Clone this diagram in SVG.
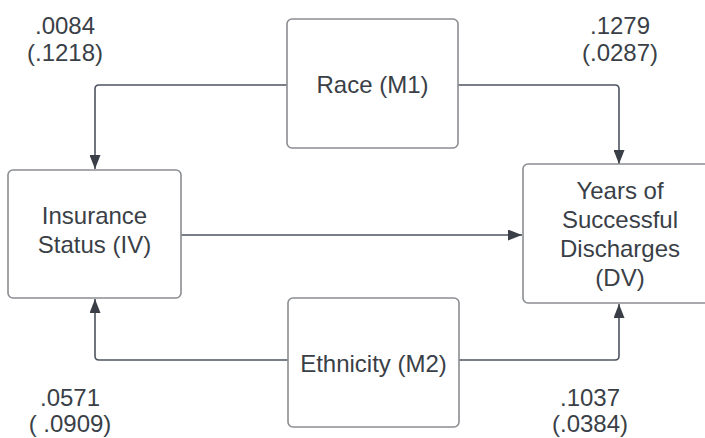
<svg xmlns="http://www.w3.org/2000/svg" width="705" height="438" viewBox="0 0 705 438">
<style>
.box{fill:#fff;stroke:#8a8d91;stroke-width:1.6}
.t{font-family:"Liberation Sans",Arial,sans-serif;font-size:24px;fill:#3a3f47;text-anchor:middle}
.c{fill:none;stroke:#4d5460;stroke-width:1.6;stroke-linejoin:round}
</style>
<defs>
<marker id="ah" viewBox="0 0 14 11" refX="14" refY="5.5" markerWidth="14" markerHeight="11" markerUnits="userSpaceOnUse" orient="auto">
<path d="M0,0 L14,5.5 L0,11 Z" fill="#3a3f47"/>
</marker>
</defs>
<rect width="705" height="438" fill="#fff"/>
<g id="connectors">
<path class="c" d="M287,85 H99 Q95,85 95,89 V169" marker-end="url(#ah)"/>
<path class="c" d="M458,85 H615 Q619,85 619,89 V164" marker-end="url(#ah)"/>
<path class="c" d="M181,235 H522" marker-end="url(#ah)"/>
<path class="c" d="M288,360 H99 Q95,360 95,356 V299" marker-end="url(#ah)"/>
<path class="c" d="M459,360 H615 Q619,360 619,356 V304" marker-end="url(#ah)"/>
</g>
<g id="race">
<rect class="box" x="287" y="19" width="171" height="129" rx="5"/>
<text class="t" x="372.5" y="93">Race (M1)</text>
</g>
<g id="insurance">
<rect class="box" x="8" y="170" width="173" height="128" rx="5"/>
<text class="t" x="94.5" y="224">Insurance</text>
<text class="t" x="94.5" y="253">Status (IV)</text>
</g>
<g id="dv">
<rect class="box" x="523" y="164" width="190" height="139" rx="5"/>
<text class="t" x="620" y="199">Years of</text>
<text class="t" x="620" y="228">Successful</text>
<text class="t" x="620" y="257">Discharges</text>
<text class="t" x="620" y="286">(DV)</text>
</g>
<g id="ethnicity">
<rect class="box" x="288" y="298" width="171" height="129" rx="5"/>
<text class="t" x="373.5" y="372">Ethnicity (M2)</text>
</g>
<g id="labels">
<text class="t" x="65" y="34">.0084</text>
<text class="t" x="65" y="61">(.1218)</text>
<text class="t" x="620" y="34">.1279</text>
<text class="t" x="620" y="61">(.0287)</text>
<text class="t" x="70" y="406">.0571</text>
<text class="t" x="70" y="432">( .0909)</text>
<text class="t" x="590" y="406">.1037</text>
<text class="t" x="590" y="432">(.0384)</text>
</g>
</svg>
